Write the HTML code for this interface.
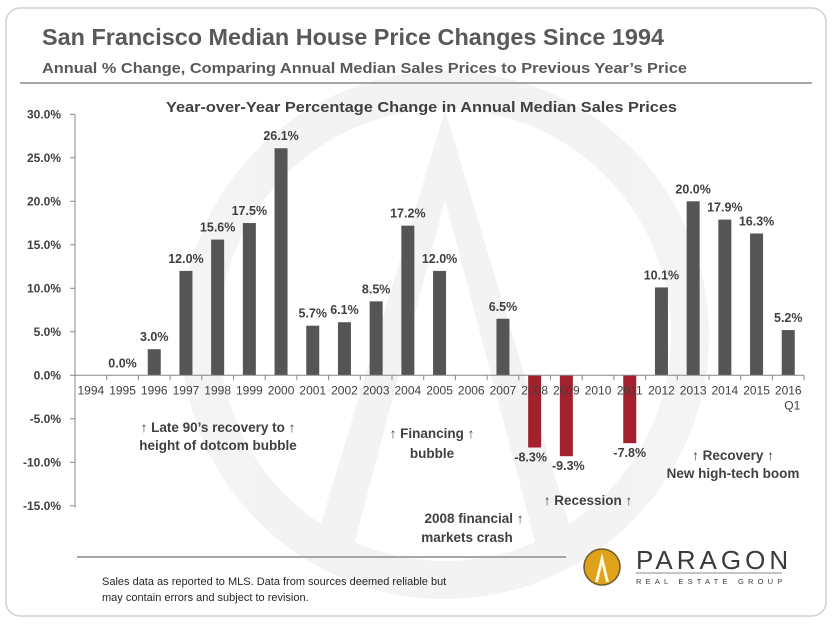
<!DOCTYPE html>
<html><head><meta charset="utf-8"><style>
body{margin:0;background:#fff;font-family:"Liberation Sans",Arial,sans-serif;}
svg text{font-family:"Liberation Sans",Arial,sans-serif;}
</style></head><body>
<svg width="835" height="625" viewBox="0 0 835 625">
<rect x="6" y="8" width="820" height="608" rx="14" fill="#fff" stroke="#d0d0d0" stroke-width="1.5"/>
<g opacity="0.08">
<circle cx="445" cy="335" r="245" fill="none" stroke="#777" stroke-width="38"/>
<path d="M 445 110 L 310 560 L 350 560 L 445 200 L 540 560 L 580 560 Z" fill="#777"/>
</g>
<text x="42" y="45" font-size="23" font-weight="bold" fill="#595959" textLength="622" lengthAdjust="spacingAndGlyphs">San Francisco Median House Price Changes Since 1994</text>
<text x="42" y="73" font-size="15" font-weight="bold" fill="#595959" textLength="645" lengthAdjust="spacingAndGlyphs">Annual % Change, Comparing Annual Median Sales Prices to Previous Year’s Price</text>
<line x1="20" y1="83" x2="812" y2="83" stroke="#a6a6a6" stroke-width="2"/>
<text x="166" y="112" font-size="15" font-weight="bold" fill="#404040" textLength="511" lengthAdjust="spacingAndGlyphs">Year-over-Year  Percentage Change in Annual Median Sales Prices</text>
<g id="plot"></g>
<g font-size="13.5" font-weight="bold" fill="#404040">
<text x="218" y="432" text-anchor="middle">↑ Late 90’s  recovery to ↑</text>
<text x="218" y="450" text-anchor="middle">height of dotcom  bubble</text>
<text x="432" y="438" text-anchor="middle">↑ Financing ↑</text>
<text x="432" y="458" text-anchor="middle">bubble</text>
<text x="588" y="505" text-anchor="middle">↑ Recession  ↑</text>
<text x="474" y="523" text-anchor="middle">2008 financial  ↑</text>
<text x="467" y="542" text-anchor="middle">markets crash</text>
<text x="733" y="460" text-anchor="middle">↑ Recovery ↑</text>
<text x="733" y="478" text-anchor="middle">New high-tech boom</text>
</g>
<line x1="77" y1="557" x2="566" y2="557" stroke="#a6a6a6" stroke-width="2"/>
<text x="102" y="585" font-size="11" fill="#262626">Sales data as reported to MLS. Data from sources deemed reliable but</text>
<text x="102" y="601" font-size="11" fill="#262626">may contain errors and subject to revision.</text>
<g>
<circle cx="602" cy="567" r="18" fill="#e0a21b" stroke="#6b5a2a" stroke-width="1.5"/>
<path d="M602 553 L595 582 L598 582 L602 565 L606 582 L609 582 Z" fill="#fff8e0"/>
<text x="636" y="569" font-size="26" fill="#3a3a3a" letter-spacing="4">PARAGON</text>
<line x1="636" y1="573" x2="782" y2="573" stroke="#888" stroke-width="1"/>
<text x="636" y="584" font-size="7.5" fill="#3a3a3a" letter-spacing="4.2">REAL ESTATE GROUP</text>
</g>
</svg>
<script>
const categories=["1994","1995","1996","1997","1998","1999","2000","2001","2002","2003","2004","2005","2006","2007","2008","2009","2010","2011","2012","2013","2014","2015","2016"];
const values=[null,0.0,3.0,12.0,15.6,17.5,26.1,5.7,6.1,8.5,17.2,12.0,null,6.5,-8.3,-9.3,null,-7.8,10.1,20.0,17.9,16.3,5.2];
const yTicks=[30,25,20,15,10,5,0,-5,-10,-15];
const NS="http://www.w3.org/2000/svg";
const g=document.getElementById('plot');
const x0=75,bw=31.7,y0=375.3,ppu=8.7;
const X=i=>x0+bw*(i+0.5);
const Y=v=>y0-v*ppu;
function el(t,a,txt){const e=document.createElementNS(NS,t);for(const k in a)e.setAttribute(k,a[k]);if(txt!=null)e.textContent=txt;g.appendChild(e);return e;}
let ax=el('line',{x1:x0,y1:Y(30),x2:x0,y2:Y(-15.2),stroke:'#888'});


yTicks.forEach(t=>{
 let tk=el('line',{x1:x0-5,y1:Y(t),x2:x0,y2:Y(t),stroke:'#888'});
 
 
 let lb=el('text',{x:x0-14,y:Y(t)+4,'font-size':12,'font-weight':'bold',fill:'#404040','text-anchor':'end'},t.toFixed(1)+'%');
 
 
});
categories.forEach((c,i)=>{
 const v=values[i];
 if(v!==null&&v!==0){
  const r=el('rect',{x:X(i)-6.5,y:Math.min(Y(v),y0),width:13,height:Math.abs(Y(v)-y0),fill:v<0?'#a3212d':'#555'});
  
  
 }
 if(v!==null){
  const ly=v>=0?Y(v)-8:Y(v)+14;
  const lx=X(i)+(c==='2008'?-4:0)+(c==='2009'?2:0);
  const t=el('text',{x:lx,y:ly,'font-size':12.5,'font-weight':'bold',fill:'#404040','text-anchor':'middle'},v.toFixed(1)+'%');
  
  
 }
});
let xa=el('line',{x1:x0,y1:y0,x2:x0+bw*categories.length,y2:y0,stroke:'#888'});


categories.forEach((c,i)=>{
 let tk=el('line',{x1:x0+bw*(i+1),y1:y0,x2:x0+bw*(i+1),y2:y0+5,stroke:'#888'});
 
 
 let lb=el('text',{x:X(i),y:y0+19,'font-size':12,fill:'#404040','text-anchor':'middle'},c);
 
 
});
let q=el('text',{x:X(categories.length-1)+4,y:y0+34,'font-size':12,fill:'#404040','text-anchor':'middle'},'Q1');


</script>
</body></html>
